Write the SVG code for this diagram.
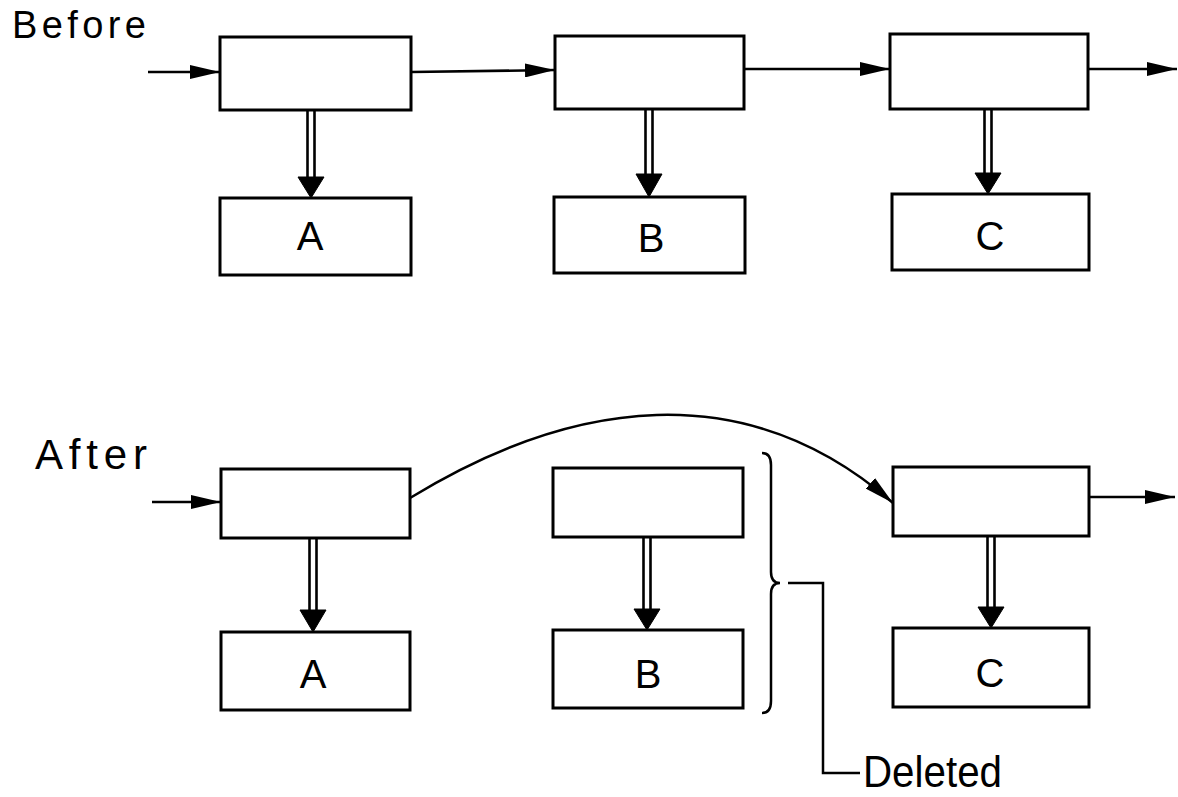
<svg xmlns="http://www.w3.org/2000/svg" width="1178" height="797" viewBox="0 0 1178 797">
<style>
.box{fill:#fff;stroke:#000;stroke-width:3}
.ln{fill:none;stroke:#000;stroke-width:2.5}
.dl{fill:none;stroke:#000;stroke-width:2.6}
.hd{fill:#000;stroke:#000;stroke-width:1}
.lbl{font-family:"Liberation Sans",Arial,sans-serif;font-size:40px;fill:#000;text-anchor:middle}
.ttl{font-family:"Liberation Sans",Arial,sans-serif;fill:#000}
</style>
<defs>
<marker id="ah" viewBox="0 0 30 14" refX="30" refY="7" markerWidth="30" markerHeight="14" markerUnits="userSpaceOnUse" orient="auto">
<path d="M0,0 L30,7 L0,14 z" fill="#000"/>
</marker>
</defs>
<rect width="1178" height="797" fill="#fff"/>
<text class="ttl" x="12" y="38" font-size="38" textLength="134">Before</text>
<text class="ttl" x="35" y="469" font-size="42" textLength="112">After</text>
<g id="before-top1"><rect class="box" x="220" y="37" width="191" height="73"/></g>
<g id="before-top2"><rect class="box" x="555" y="36" width="189" height="73"/></g>
<g id="before-top3"><rect class="box" x="890" y="34" width="198" height="75"/></g>
<g id="before-A"><rect class="box" x="220" y="198" width="191" height="77"/><text class="lbl" x="310" y="250">A</text></g>
<g id="before-B"><rect class="box" x="554" y="197" width="191" height="76"/><text class="lbl" x="651" y="252">B</text></g>
<g id="before-C"><rect class="box" x="892" y="194" width="197" height="76"/><text class="lbl" x="990" y="250">C</text></g>
<g id="after-top1"><rect class="box" x="221" y="469" width="189" height="69"/></g>
<g id="after-topB"><rect class="box" x="553" y="468" width="190" height="69"/></g>
<g id="after-top3"><rect class="box" x="893" y="467" width="196" height="69"/></g>
<g id="after-A"><rect class="box" x="221" y="632" width="189" height="78"/><text class="lbl" x="313" y="688">A</text></g>
<g id="after-B"><rect class="box" x="553" y="630" width="190" height="78"/><text class="lbl" x="648" y="688">B</text></g>
<g id="after-C"><rect class="box" x="893" y="628" width="196" height="79"/><text class="lbl" x="990" y="687">C</text></g>
<g id="deleted-note">
<path class="ln" d="M762,453 Q771,453 771,465 L771,572 Q771,583 780,583 Q771,583 771,594 L771,701 Q771,713 762,713"/>
<polyline class="ln" points="788,583 823,583 823,773 860,773"/>
<text class="ttl" x="863" y="787" font-size="44" textLength="139" lengthAdjust="spacingAndGlyphs">Deleted</text>
</g>
<g id="connectors">
<line class="ln" x1="148" y1="72" x2="220" y2="72" marker-end="url(#ah)"/>
<line class="ln" x1="411" y1="72" x2="555" y2="70" marker-end="url(#ah)"/>
<line class="ln" x1="744" y1="69" x2="890" y2="69" marker-end="url(#ah)"/>
<line class="ln" x1="1088" y1="69" x2="1177" y2="69" marker-end="url(#ah)"/>
<line class="ln" x1="152" y1="502" x2="221" y2="502" marker-end="url(#ah)"/>
<line class="ln" x1="1089" y1="497" x2="1175" y2="497" marker-end="url(#ah)"/>
<path class="ln" d="M410,498 C572,399 745,374 893,503" marker-end="url(#ah)"/>
<path class="dl" d="M307.5,110 V178 M314.5,110 V178"/><polygon class="hd" points="298,177 324,177 311,198"/>
<path class="dl" d="M645.5,109 V175 M652.5,109 V175"/><polygon class="hd" points="636,174 662,174 649,197"/>
<path class="dl" d="M984.5,109 V174 M991.5,109 V174"/><polygon class="hd" points="975,173 1001,173 988,194"/>
<path class="dl" d="M309.5,538 V611 M316.5,538 V611"/><polygon class="hd" points="300,610 326,610 313,632"/>
<path class="dl" d="M643.5,537 V610 M650.5,537 V610"/><polygon class="hd" points="634,609 660,609 647,630"/>
<path class="dl" d="M987.5,536 V608 M994.5,536 V608"/><polygon class="hd" points="978,607 1004,607 991,628"/>
</g>
</svg>
